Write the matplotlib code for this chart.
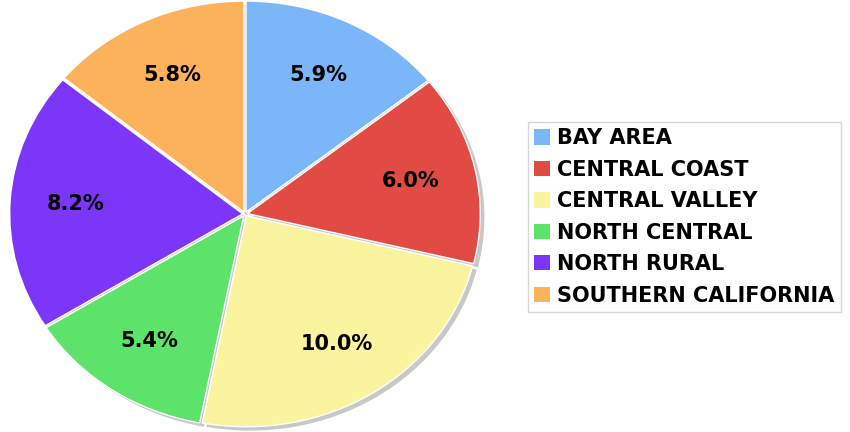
import matplotlib
matplotlib.use('Agg')
import matplotlib.pyplot as plt
from matplotlib.patches import Patch

regions = ['Bay Area', 'Central Coast', 'Central Valley', 'North Central',
           'North Rural', 'Southern California']
values = [5.9, 6.0, 10.0, 5.4, 8.2, 5.8]
colors = ['#7ab6f8', '#e24b43', '#faf49e', '#5de36a', '#7b36f7', '#fcb25b']
total = sum(values)

fig = plt.figure(figsize=(8.5, 4.32), dpi=100)
ax = fig.add_axes([12/850, 7/432, 466/850, 422/432])

explode = [0.01] * len(values)

# gray drop shadow under every slice
shadow, _ = ax.pie(values, startangle=90, counterclock=False, explode=explode,
                   colors=['#c8c8c8'] * len(values), center=(0.018, -0.018),
                   wedgeprops=dict(edgecolor='none'))

wedges, _, autotexts = ax.pie(values, startangle=90, counterclock=False,
                              explode=explode, colors=colors,
                              autopct=lambda p: '%.1f%%' % (p * total / 100),
                              pctdistance=0.72,
                              wedgeprops=dict(edgecolor='white', linewidth=1),
                              textprops=dict(fontsize=15, fontweight='bold',
                                             color='black'))
for w in list(shadow) + list(wedges):
    w.set_clip_on(False)

ax.set_aspect('auto')
ax.set_xlim(-1, 1)
ax.set_ylim(-1, 1)
ax.axis('off')

handles = [Patch(facecolor=c, edgecolor='none') for c in colors]
leg = fig.legend(handles, [r.upper() for r in regions], loc='upper left',
                 bbox_to_anchor=(528/850, 1 - 122/432),
                 frameon=True, fancybox=False, edgecolor='#cccccc',
                 prop=dict(size=15, weight='bold'),
                 handlelength=0.75, handleheight=0.75, handletextpad=0.35,
                 labelspacing=0.55, borderpad=0.3, borderaxespad=0)
leg.get_frame().set_linewidth(1)

fig.savefig('out.png', dpi=100)
